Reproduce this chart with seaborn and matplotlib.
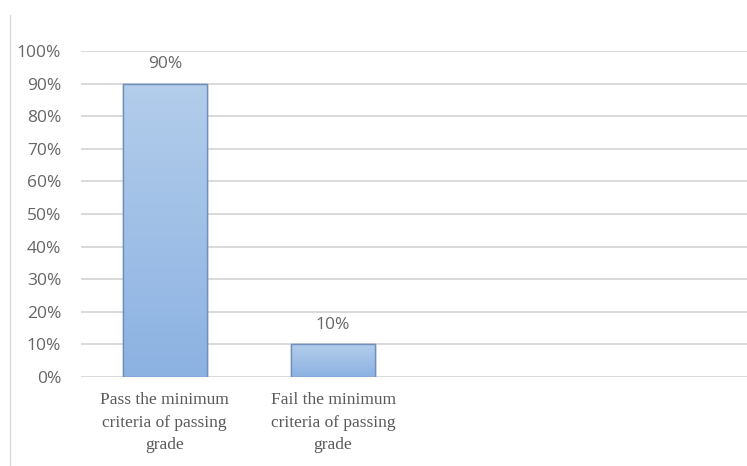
import numpy as np
import pandas as pd
import matplotlib.pyplot as plt
import matplotlib.lines as mlines
import seaborn as sns

categories = ["Pass the minimum\ncriteria of passing\ngrade",
              "Fail the minimum\ncriteria of passing\ngrade"]
shares = [0.90, 0.10]
tick_values = [0, 0.1, 0.2, 0.3, 0.4, 0.5, 0.6, 0.7, 0.8, 0.9, 1.0]
tick_labels = [f"{int(round(v * 100))}%" for v in tick_values]

df = pd.DataFrame({"Outcome": categories, "Share": shares})

sns.set_style("white")
plt.rcParams['font.family'] = ['Open Sans', 'DejaVu Sans']

fig = plt.figure(figsize=(7.47, 4.66), dpi=100)
ax = fig.add_axes([0.108, 0.191, 0.892, 0.6996])

sns.barplot(data=df, x="Outcome", y="Share", width=0.5, color="#9dbde6",
            edgecolor="#6f8fbf", linewidth=1.0, ax=ax, zorder=3)

# vertical gradient fill, clipped to each bar
grad = np.linspace(0, 1, 256).reshape(-1, 1)
cmap = sns.blend_palette(["#8cb2e2", "#b3cdeb"], as_cmap=True)
for patch in ax.patches:
    x0, y0 = patch.get_x(), patch.get_y()
    w, h = patch.get_width(), patch.get_height()
    im = ax.imshow(grad, extent=[x0, x0 + w, y0, y0 + h], origin="lower",
                   aspect="auto", cmap=cmap, zorder=3.5)
    im.set_clip_path(patch)
    ax.add_patch(plt.Rectangle((x0, y0), w, h, fill=False,
                               edgecolor="#6f8fbf", linewidth=1.0, zorder=4))

ax.set_xlim(-0.5, 3.46)
ax.set_ylim(0, 1.0)
ax.set_yticks(tick_values)
ax.set_yticklabels(tick_labels, color="#666666", fontsize=12.5)
ax.yaxis.grid(True, color="#d9d9d9", linewidth=1.4, zorder=0)
ax.set_axisbelow(True)
ax.tick_params(axis="y", length=0, pad=14)
ax.tick_params(axis="x", length=0, pad=11)
for lbl in ax.get_xticklabels():
    lbl.set_family("Liberation Serif")
    lbl.set_fontsize(12.5)
    lbl.set_color("#595959")
    lbl.set_linespacing(1.55)
ax.set_xlabel("")
ax.set_ylabel("")
for s in ax.spines.values():
    s.set_visible(False)

for i, v in enumerate(shares):
    ax.annotate(f"{int(round(v * 100))}%", (i, v), xytext=(0, 8),
                textcoords="offset points", ha="center", va="bottom",
                fontsize=12.5, color="#666666")

fig.add_artist(mlines.Line2D([0.0135, 0.0135], [0.0, 0.968],
                             transform=fig.transFigure, color="#d9d9d9",
                             linewidth=1.0))

plt.savefig("out.png", dpi=100)
